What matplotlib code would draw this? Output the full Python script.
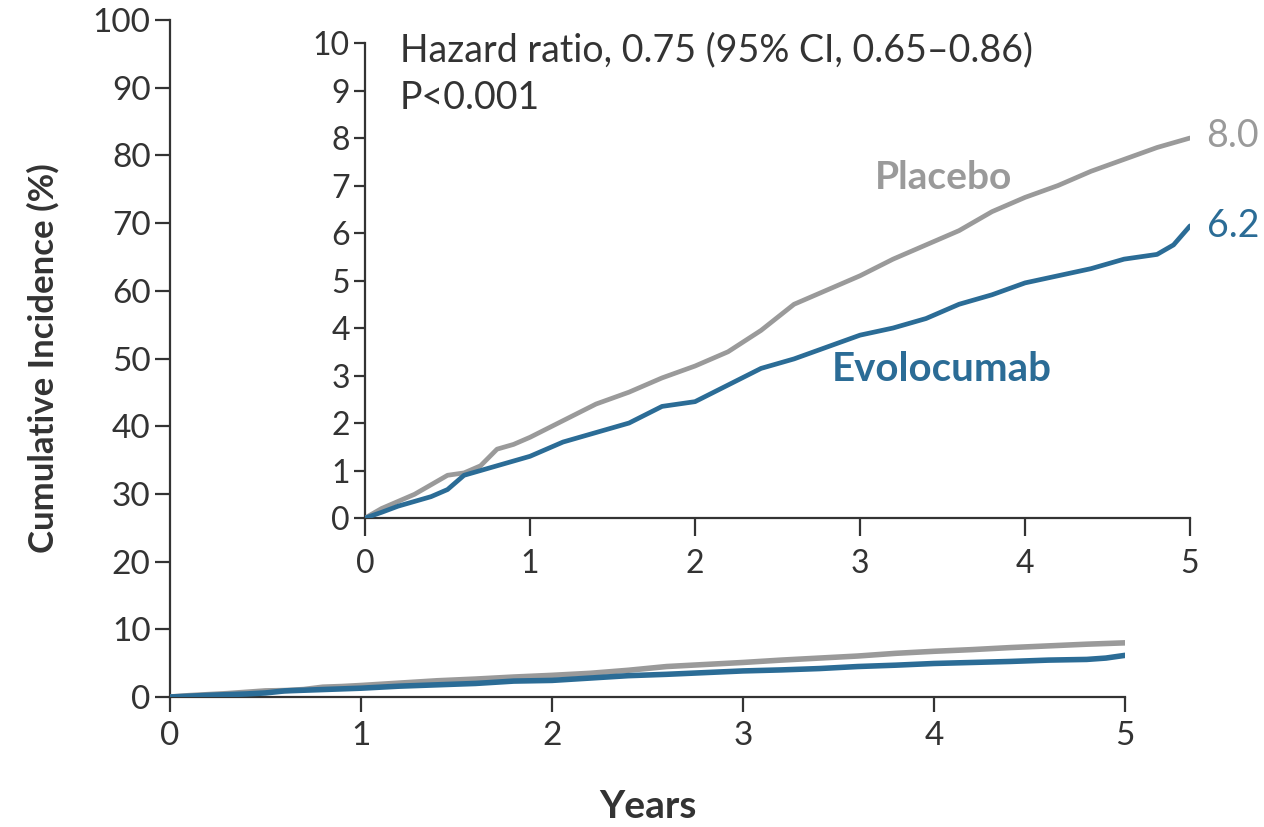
import matplotlib.pyplot as plt

plt.rcParams['font.family'] = ['Lato', 'DejaVu Sans']

# Incidencia acumulada (%)
years = [0, 0.1, 0.2, 0.3, 0.4, 0.5, 0.6, 0.7, 0.8, 0.9, 1.0, 1.2, 1.4, 1.6, 1.8, 2.0,
         2.2, 2.4, 2.6, 2.8, 3.0, 3.2, 3.4, 3.6, 3.8, 4.0, 4.2, 4.4, 4.6, 4.8, 4.9, 5.0]
placebo = [0, 0.2, 0.35, 0.5, 0.7, 0.9, 0.95, 1.1, 1.45, 1.55, 1.7, 2.05, 2.4, 2.65, 2.95, 3.2,
           3.5, 3.95, 4.5, 4.8, 5.1, 5.45, 5.75, 6.05, 6.45, 6.75, 7.0, 7.3, 7.55, 7.8, 7.9, 8.0]
evolocumab = [0, 0.12, 0.25, 0.35, 0.45, 0.6, 0.9, 1.0, 1.1, 1.2, 1.3, 1.6, 1.8, 2.0, 2.35, 2.45,
              2.8, 3.15, 3.35, 3.6, 3.85, 4.0, 4.2, 4.5, 4.7, 4.95, 5.1, 5.25, 5.45, 5.55, 5.75, 6.15]
main_yticks = list(range(0, 101, 10))
inset_yticks = list(range(0, 11))
xticks = [0, 1, 2, 3, 4, 5]

gris = "#9a9a9a"
azul = "#2b6c96"
txt = "#333333"

fig = plt.figure(figsize=(12.64, 8.27), dpi=100)

def estilo(ax, tam):
    for s in ["top", "right"]:
        ax.spines[s].set_visible(False)
    for s in ["left", "bottom"]:
        ax.spines[s].set_linewidth(1.6)
        ax.spines[s].set_color(txt)
    ax.tick_params(direction="out", width=1.6, color=txt, labelcolor=txt, labelsize=tam)

# --- Eje principal ---
ax = fig.add_axes([0.1345, 0.1572, 0.7555, 0.8186])
ax.plot(years, placebo, color=gris, lw=4, solid_capstyle="round", zorder=3)
ax.plot(years, evolocumab, color=azul, lw=4, solid_capstyle="round", zorder=4)
ax.set_xlim(0, 5)
ax.set_ylim(0, 100)
ax.set_xticks(xticks)
ax.set_yticks(main_yticks)
estilo(ax, 24)
ax.tick_params(axis="y", length=11, pad=3)
ax.tick_params(axis="x", length=11, pad=6)
ax.set_ylabel("Cumulative Incidence (%)", fontsize=25, fontweight="bold", color=txt, labelpad=24)
ax.set_xlabel("Years", fontsize=28, fontweight="bold", color=txt, labelpad=28)
for sp in ax.spines.values():
    sp.set_clip_on(False)

# --- Recuadro ampliado ---
ins = fig.add_axes([0.2888, 0.3736, 0.6527, 0.5744])
ins.patch.set_alpha(0)
ins.plot(years, placebo, color=gris, lw=3.4, solid_capstyle="round", zorder=3)
ins.plot(years, evolocumab, color=azul, lw=3.4, solid_capstyle="round", zorder=4)
ins.set_xlim(0, 5)
ins.set_ylim(0, 10)
ins.set_xticks(xticks)
ins.set_yticks(inset_yticks)
estilo(ins, 23)
ins.tick_params(axis="y", length=8, pad=3)
ins.tick_params(axis="x", length=13, pad=9)

ins.text(0.21, 9.85, "Hazard ratio, 0.75 (95% CI, 0.65\u20130.86)", fontsize=27, color=txt, va="center")
ins.text(0.21, 8.85, "P<0.001", fontsize=27, color=txt, va="center")
ins.text(3.09, 7.16, "Placebo", fontsize=28, fontweight="bold", color=gris, va="center")
ins.text(2.83, 3.12, "Evolocumab", fontsize=29, fontweight="bold", color=azul, va="center")
ins.text(5.1, placebo[-1] + 0.05, "8.0", fontsize=27, color=gris, va="center", clip_on=False)
ins.text(5.1, evolocumab[-1], "6.2", fontsize=27, color=azul, va="center", clip_on=False)

plt.savefig("out.png", dpi=100)
